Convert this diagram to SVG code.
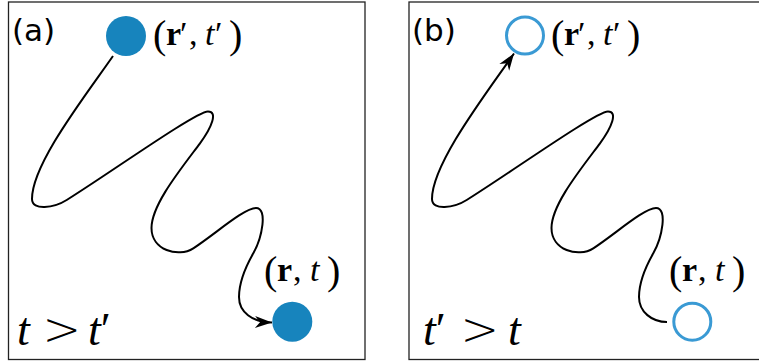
<svg xmlns="http://www.w3.org/2000/svg" width="759" height="361" viewBox="0 0 759 361">
<style>
.box{fill:#fff;stroke:#222;stroke-width:1.3}
.path{fill:none;stroke:#000;stroke-width:2;stroke-linecap:butt;stroke-linejoin:round}
.filled{fill:#1784bd}
.hollow{fill:none;stroke:#3a9ad4;stroke-width:3}
.lab{font-family:"DejaVu Sans",sans-serif;font-size:31px;fill:#000}
.math{font-family:"Liberation Serif","Times New Roman",serif;font-size:34px;fill:#000}
.big{font-size:46px}
.par{font-size:40px}
.gt{font-family:"DejaVu Sans",sans-serif;font-size:46px;font-weight:200}
.b{font-weight:bold}
.i{font-style:italic}
</style>
<defs>
<marker id="arr" markerUnits="userSpaceOnUse" markerWidth="20" markerHeight="14" viewBox="-17 -7 19 14" refX="0" refY="0" orient="auto-start-reverse">
<path d="M0,0 L-17,-6 L-12,0 L-17,6 Z" fill="#000"/>
</marker>
</defs>
<g id="panel-a">
<rect class="box" x="8.5" y="2" width="356.5" height="357.5"/>
<text class="lab" x="12" y="41">(a)</text>
<text class="math big" y="345"><tspan class="i" x="17">t</tspan> <tspan class="gt" x="67.5" text-anchor="middle">&gt;</tspan> <tspan class="i" x="88" text-anchor="start">t</tspan>′</text>
</g>
<g id="panel-b">
<rect class="box" x="409" y="2" width="356.5" height="357.5"/>
<text class="lab" x="412" y="41">(b)</text>
<text class="math big" y="345"><tspan class="i" x="423">t</tspan>′ <tspan class="gt" x="485.5" text-anchor="middle">&gt;</tspan> <tspan class="i" x="508" text-anchor="start">t</tspan></text>
</g>
<g id="connectors">
<path class="path" marker-end="url(#arr)" d="M113,56 C84.5,97 32,164 32,199 C32,211 54,208 66.7,200 C109.2,173.5 196,111.5 208,111.5 C218,111.5 212,127 200,143.3 C180,170 151.5,205 151.5,228 C151.5,250 178,258 193.3,248.3 C214.3,234.8 244,208 256,208 C268,208 262,238 253.3,253.3 C243.5,270.5 239,283 239,297 C239,312 252,322 272,322.5"/>
<path class="path" marker-start="url(#arr)" d="M514,53.5 C485,95 432,164 432,199 C432,211 454,208 466.7,200 C509.2,173.5 596,111.5 608,111.5 C618,111.5 612,127 600,143.3 C580,170 551.5,205 551.5,228 C551.5,250 578,258 593.3,248.3 C614.3,234.8 644,208 656,208 C668,208 662,238 653.3,253.3 C643.5,270.5 639,283 639,297 C639,312 652,322 667,322"/>
</g>
<g id="node-a-start">
<circle class="filled" cx="126" cy="36" r="20"/>
<text class="math" y="45"><tspan class="par" x="153" y="48">(</tspan><tspan class="b" x="166" y="45">r</tspan><tspan x="180">′</tspan><tspan x="189">,</tspan> <tspan class="i" x="205">t</tspan><tspan x="215">′</tspan><tspan class="par" x="229" y="48">)</tspan></text>
</g>
<g id="node-a-end">
<circle class="filled" cx="292.3" cy="321.7" r="20"/>
<text class="math" y="281"><tspan class="par" x="264" y="284">(</tspan><tspan class="b" x="277" y="281">r</tspan><tspan x="293">,</tspan> <tspan class="i" x="310">t</tspan><tspan class="par" x="327" y="284">)</tspan></text>
</g>
<g id="node-b-start">
<circle class="hollow" cx="525" cy="35.5" r="18.5"/>
<text class="math" y="45"><tspan class="par" x="551" y="48">(</tspan><tspan class="b" x="564" y="45">r</tspan><tspan x="578">′</tspan><tspan x="587">,</tspan> <tspan class="i" x="603">t</tspan><tspan x="613">′</tspan><tspan class="par" x="627" y="48">)</tspan></text>
</g>
<g id="node-b-end">
<circle class="hollow" cx="692.3" cy="321.7" r="18.5"/>
<text class="math" y="281"><tspan class="par" x="669" y="284">(</tspan><tspan class="b" x="682" y="281">r</tspan><tspan x="698">,</tspan> <tspan class="i" x="715">t</tspan><tspan class="par" x="732" y="284">)</tspan></text>
</g>
</svg>
